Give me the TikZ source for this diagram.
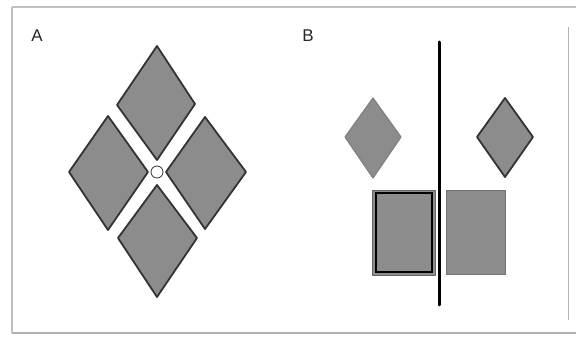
\documentclass[tikz,border=0pt]{standalone}
\usepackage{fontspec}
\setmainfont{Liberation Sans}
\begin{document}
\begin{tikzpicture}[x=1pt,y=-1pt,
  tile/.style={fill=shapegray,draw=black!80,line width=1.8pt,line join=round},
  lighttile/.style={fill=shapegray,draw=black!50,line width=1.2pt,line join=round},
  frameline/.style={draw=black!25,line width=1.2pt},
  lbl/.style={font=\fontsize{17}{17}\selectfont,text=black!85,inner sep=0pt}]
\definecolor{shapegray}{HTML}{8C8C8C}
\useasboundingbox (0,0) rectangle (576,339);
% frame
\draw[frameline] (12,7) -- (576,7);
\draw[frameline] (12,7) -- (12,333);
\draw[draw=black!30,line width=2.5pt] (12,333) -- (576,333);
\draw[draw=black!30,line width=1pt] (568,27) -- (568,320);
% labels
\node[lbl] (la) at (37,36) {A};
\node[lbl] (lb) at (308,36) {B};
% part A
\draw[tile] (157,46) -- (195,104) -- (157,160) -- (117,105) -- cycle;
\draw[tile] (108,116) -- (148,172) -- (108,230) -- (69,172) -- cycle;
\draw[tile] (205,117) -- (246,172) -- (205,229) -- (166,172) -- cycle;
\draw[tile] (157,185) -- (197,238) -- (157,297) -- (118,238) -- cycle;
\draw[fill=white,draw=black!80,line width=0.8pt] (157,172) circle (6);
% part B
\draw[lighttile] (373,98) -- (401,137) -- (373,178) -- (345,137) -- cycle;
\draw[tile] (505,98) -- (533,137) -- (505,177) -- (477,137) -- cycle;
\draw[fill=shapegray,draw=black!60,line width=0.8pt] (372,190) rectangle (435,275);
\draw[draw=black,line width=1.6pt] (376,193) rectangle (432,272);
\draw[fill=shapegray,draw=black!55,line width=1pt] (446,191) rectangle (505,275);
\draw[line width=3pt,line cap=round] (439,42) -- (439,305);
\end{tikzpicture}
\end{document}
